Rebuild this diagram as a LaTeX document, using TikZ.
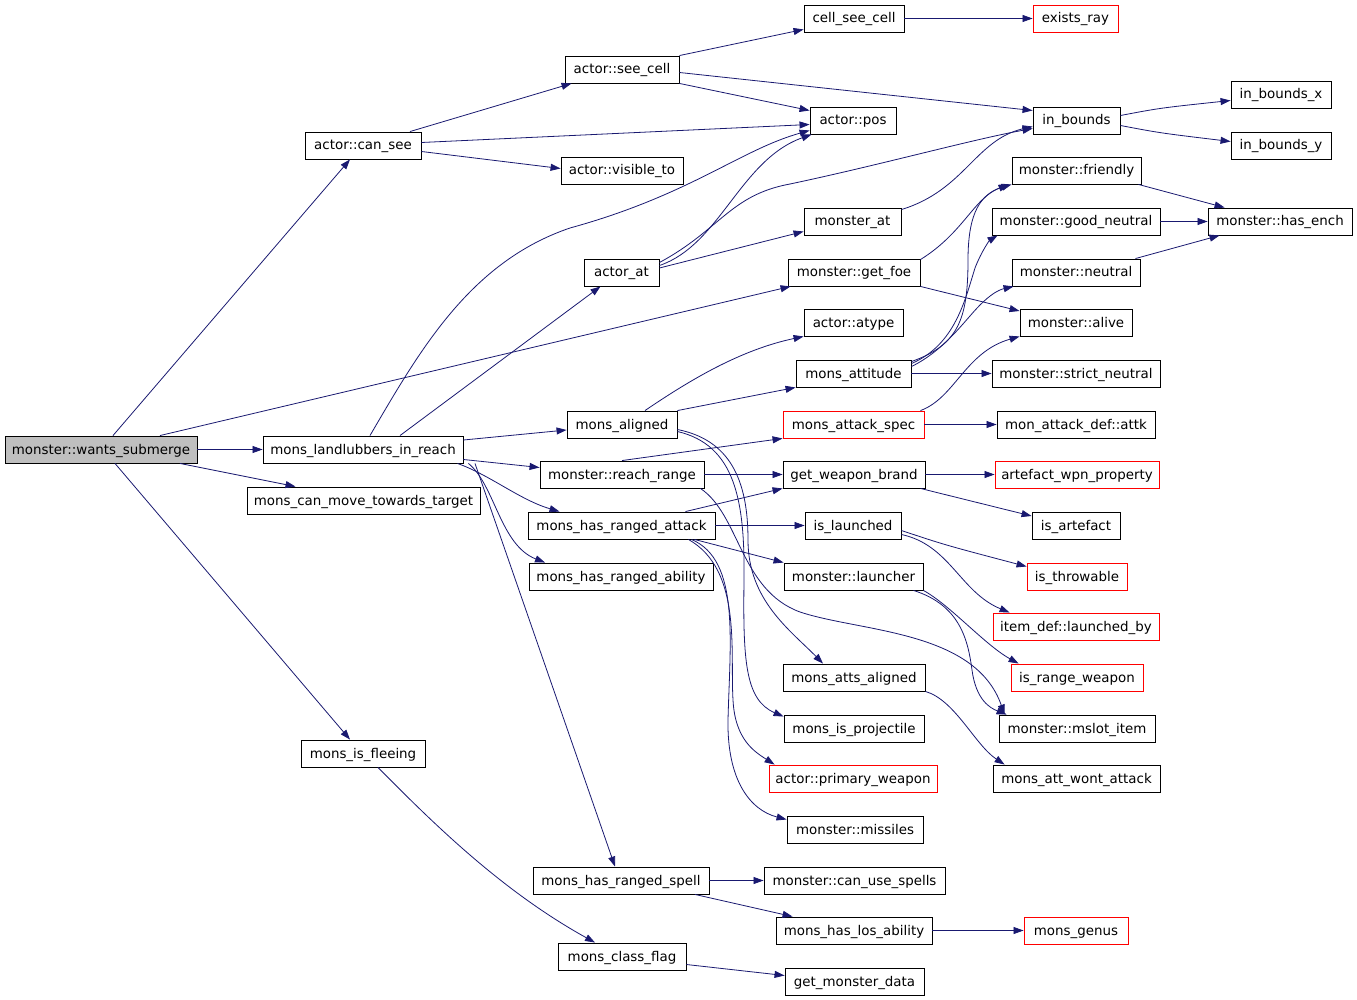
\documentclass[tikz,border=0pt]{standalone}
\usepackage{fontspec}
\setmainfont{DejaVu Sans}
\usetikzlibrary{arrows.meta}
\definecolor{edgeblue}{HTML}{191970}
\definecolor{rootgrey}{HTML}{BFBFBF}
\tikzset{
  fn/.style={draw=black, line width=0.9pt, fill=white, inner sep=0pt, minimum height=27pt, text height=12pt, text depth=3pt, font=\fontsize{13.4}{16}\selectfont},
  redfn/.style={fn, draw=red},
  rootfn/.style={fn, fill=rootgrey},
  edge/.style={draw=edgeblue, line width=0.8pt, -{Triangle[length=10pt,width=7pt]}},
}
\begin{document}
\begin{tikzpicture}[x=1pt,y=-1pt]
\useasboundingbox (0,0) rectangle (1357,1000);
% nodes
\node[rootfn, minimum width=192pt] (wants) at (101,449.5) {monster::wants\_submerge};
\node[fn, minimum width=200pt] (landlubbers) at (363,449.5) {mons\_landlubbers\_in\_reach};
\node[fn, minimum width=233pt] (canmove) at (363.5,500.5) {mons\_can\_move\_towards\_target};
\node[fn, minimum width=116pt] (cansee) at (363,145.5) {actor::can\_see};
\node[fn, minimum width=124pt] (fleeing) at (363,753.5) {mons\_is\_fleeing};
\node[fn, minimum width=114pt] (seecell) at (622,69.5) {actor::see\_cell};
\node[fn, minimum width=100pt] (cellsee) at (854,18.5) {cell\_see\_cell};
\node[redfn, minimum width=85pt] (existsray) at (1075.5,18.5) {exists\_ray};
\node[fn, minimum width=86pt] (pos) at (853,120.5) {actor::pos};
\node[fn, minimum width=87pt] (inbounds) at (1076.5,120.5) {in\_bounds};
\node[fn, minimum width=100pt] (inbx) at (1281,94.5) {in\_bounds\_x};
\node[fn, minimum width=100pt] (inby) at (1281,145.5) {in\_bounds\_y};
\node[fn, minimum width=122pt] (visible) at (622,170.5) {actor::visible\_to};
\node[fn, minimum width=75pt] (actorat) at (621.5,272.5) {actor\_at};
\node[fn, minimum width=97pt] (monsterat) at (852.5,221.5) {monster\_at};
\node[fn, minimum width=132pt] (getfoe) at (854,272.5) {monster::get\_foe};
\node[fn, minimum width=129pt] (friendly) at (1076.5,170.5) {monster::friendly};
\node[fn, minimum width=168pt] (goodneutral) at (1076,221.5) {monster::good\_neutral};
\node[fn, minimum width=144pt] (hasench) at (1280,221.5) {monster::has\_ench};
\node[fn, minimum width=128pt] (neutral) at (1076,272.5) {monster::neutral};
\node[fn, minimum width=112pt] (alive) at (1076,322.5) {monster::alive};
\node[fn, minimum width=168pt] (strictneutral) at (1076,373.5) {monster::strict\_neutral};
\node[fn, minimum width=99pt] (atype) at (853.5,322.5) {actor::atype};
\node[fn, minimum width=115pt] (attitude) at (853.5,373.5) {mons\_attitude};
\node[fn, minimum width=110pt] (aligned) at (622,424.5) {mons\_aligned};
\node[redfn, minimum width=141pt] (attackspec) at (853.5,424.5) {mons\_attack\_spec};
\node[fn, minimum width=158pt] (attk) at (1076,424.5) {mon\_attack\_def::attk};
\node[fn, minimum width=164pt] (reachrange) at (622,474.5) {monster::reach\_range};
\node[fn, minimum width=142pt] (brand) at (854,474.5) {get\_weapon\_brand};
\node[redfn, minimum width=164pt] (wpnprop) at (1077,474.5) {artefact\_wpn\_property};
\node[fn, minimum width=187pt] (rangedattack) at (621.5,525.5) {mons\_has\_ranged\_attack};
\node[fn, minimum width=96pt] (launched) at (853,525.5) {is\_launched};
\node[fn, minimum width=88pt] (isartefact) at (1076,525.5) {is\_artefact};
\node[fn, minimum width=184pt] (rangedability) at (621,576.5) {mons\_has\_ranged\_ability};
\node[fn, minimum width=139pt] (launcher) at (853.5,576.5) {monster::launcher};
\node[redfn, minimum width=100pt] (throwable) at (1077,576.5) {is\_throwable};
\node[redfn, minimum width=166pt] (launchedby) at (1076,626.5) {item\_def::launched\_by};
\node[fn, minimum width=142pt] (attsaligned) at (854,677.5) {mons\_atts\_aligned};
\node[redfn, minimum width=132pt] (rangeweapon) at (1077,677.5) {is\_range\_weapon};
\node[fn, minimum width=140pt] (projectile) at (854,728.5) {mons\_is\_projectile};
\node[fn, minimum width=156pt] (mslot) at (1077,728.5) {monster::mslot\_item};
\node[redfn, minimum width=168pt] (primary) at (853,778.5) {actor::primary\_weapon};
\node[fn, minimum width=167pt] (wontattack) at (1076.5,778.5) {mons\_att\_wont\_attack};
\node[fn, minimum width=136pt] (missiles) at (855,829.5) {monster::missiles};
\node[fn, minimum width=176pt] (rangedspell) at (621,880.5) {mons\_has\_ranged\_spell};
\node[fn, minimum width=181pt] (canusespells) at (854.5,880.5) {monster::can\_use\_spells};
\node[fn, minimum width=156pt] (losability) at (854,930.5) {mons\_has\_los\_ability};
\node[redfn, minimum width=104pt] (genus) at (1076,930.5) {mons\_genus};
\node[fn, minimum width=128pt] (classflag) at (622,956.5) {mons\_class\_flag};
\node[fn, minimum width=139pt] (monsterdata) at (854.5,981.5) {get\_monster\_data};
% edges from root
\draw[edge] ([xshift=12pt]wants.north) -- ([xshift=-13pt]cansee.south);
\draw[edge] ([xshift=59pt]wants.north) -- ([xshift=3pt]getfoe.south west);
\draw[edge] (wants.east) -- (landlubbers.west);
\draw[edge] ([xshift=79pt]wants.south) -- ([xshift=-68pt]canmove.north);
\draw[edge] ([xshift=14pt]wants.south) -- ([xshift=-13pt]fleeing.north);
% can_see
\draw[edge] ([xshift=47pt]cansee.north) -- ([xshift=7pt]seecell.south west);
\draw[edge] ([yshift=3pt]cansee.east) -- ([yshift=-4pt]pos.west);
\draw[edge] ([yshift=-6pt]cansee.east) -- ([yshift=2pt]visible.west);
% see_cell
\draw[edge] (seecell.north east) -- ([yshift=3pt]cellsee.south west);
\draw[edge] ([yshift=-3pt]seecell.east) -- ([yshift=10pt]inbounds.west);
\draw[edge] (seecell.south east) -- ([yshift=10pt]pos.west);
\draw[edge] (cellsee.east) -- (existsray.west);
\draw[edge] ([yshift=5pt]inbounds.east) .. controls (1160,108) .. ([yshift=-6pt]inbx.west);
\draw[edge] ([yshift=-5pt]inbounds.east) .. controls (1160,133) .. ([yshift=4pt]inby.west);
% landlubbers
\draw[edge] ([xshift=7pt]landlubbers.north) .. controls (420,350) and (470,262) .. (570,228) .. controls (690,195) and (740,150) .. ([yshift=4pt]pos.south west);
\draw[edge] ([xshift=37pt]landlubbers.north) -- ([xshift=-21pt]actorat.south);
\draw[edge] ([yshift=9.5pt]landlubbers.east) -- ([yshift=-5.5pt]aligned.west);
\draw[edge] ([yshift=-10pt]landlubbers.east) -- ([yshift=7pt]reachrange.west);
\draw[edge] ([xshift=-6pt]landlubbers.south east) .. controls (490,475) and (520,500) .. ([xshift=-62pt]rangedattack.north);
\draw[edge] ([xshift=5pt]landlubbers.south east) .. controls (495,485) and (500,545) .. ([xshift=-76pt]rangedability.north);
\draw[edge] ([xshift=112pt]landlubbers.south) -- ([xshift=-6pt]rangedspell.north);
% actor_at
\draw[edge] ([yshift=7pt]actorat.east) .. controls (720,245) and (740,160) .. ([xshift=2pt]pos.south west);
\draw[edge] ([yshift=10pt]actorat.east) .. controls (720,230) and (730,195) .. (790,184) .. controls (880,165) and (970,140) .. ([yshift=-8pt]inbounds.west);
\draw[edge] ([yshift=4.5pt]actorat.east) -- ([yshift=-10pt]monsterat.west);
\draw[edge] ([yshift=-2pt]monsterat.north east) .. controls (965,190) and (975,140) .. ([yshift=-6pt]inbounds.west);
% get_foe
\draw[edge] ([yshift=-1pt]getfoe.north east) .. controls (965,232) and (975,195) .. (friendly.south west);
\draw[edge] (getfoe.south east) -- ([yshift=11.5pt]alive.west);
% attitude
\draw[edge] ([yshift=-2pt]attitude.north east) .. controls (958,345) and (968,320) .. (968,260) .. controls (968,210) and (982,195) .. ([xshift=-3pt]friendly.south west);
\draw[edge] ([yshift=-4pt]attitude.north east) .. controls (955,345) and (965,300) .. (975,268) .. controls (982,250) and (990,240) .. ([xshift=6pt]goodneutral.south west);
\draw[edge] ([yshift=-7pt]attitude.north east) .. controls (945,350) and (965,320) .. (980,305) .. controls (990,295) and (998,290) .. ([xshift=2pt]neutral.south west);
\draw[edge] (attitude.east) -- (strictneutral.west);
\draw[edge] ([xshift=-4pt]attackspec.north east) .. controls (955,398) and (965,352) .. (alive.south west);
\draw[edge] ([xshift=-3pt]friendly.south east) -- ([xshift=17pt]hasench.north west);
\draw[edge] (goodneutral.east) -- (hasench.west);
\draw[edge] ([xshift=-5pt]neutral.north east) -- ([xshift=12pt]hasench.south west);
% aligned
\draw[edge] ([xshift=23pt]aligned.north) .. controls (690,380) and (740,350) .. (atype.south west);
\draw[edge] (aligned.north east) -- (attitude.south west);
\draw[edge] ([yshift=-5pt]aligned.east) .. controls (730,440) and (748,480) .. (748,540) .. controls (748,600) and (790,630) .. ([xshift=-31pt]attsaligned.north);
\draw[edge] ([yshift=-7pt]aligned.east) .. controls (735,445) and (745,500) .. (744,580) .. controls (743,660) and (745,700) .. ([yshift=-2pt]projectile.north west);
% reach_range
\draw[edge] (reachrange.north) -- (attackspec.south west);
\draw[edge] (reachrange.east) -- (brand.west);
\draw[edge] ([xshift=-4pt]reachrange.south east) .. controls (740,515) and (740,590) .. (800,612) .. controls (860,632) and (975,630) .. ([xshift=6pt]mslot.north west);
% ranged attack
\draw[edge] ([xshift=64pt]rangedattack.north) -- (brand.south west);
\draw[edge] (rangedattack.east) -- (launched.west);
\draw[edge] ([xshift=73pt]rangedattack.south) -- (launcher.north west);
\draw[edge] ([xshift=70pt]rangedattack.south) .. controls (740,560) and (730,640) .. (728,720) .. controls (727,780) and (750,810) .. ([yshift=10pt]missiles.west);
\draw[edge] ([xshift=67pt]rangedattack.south) .. controls (742,570) and (730,650) .. (733,700) .. controls (735,740) and (755,752) .. ([xshift=6pt]primary.north west);
% right side
\draw[edge] (attackspec.east) -- (attk.west);
\draw[edge] (brand.east) -- (wpnprop.west);
\draw[edge] ([xshift=-5pt]brand.south east) -- ([yshift=9.5pt]isartefact.west);
\draw[edge] ([yshift=-5pt]launched.east) .. controls (945,545) .. ([yshift=10pt]throwable.west);
\draw[edge] ([yshift=-9pt]launched.east) .. controls (950,545) and (960,592) .. ([xshift=17pt]launchedby.north west);
\draw[edge] (launcher.south east) .. controls (950,605) and (985,645) .. ([xshift=8pt]rangeweapon.north west);
\draw[edge] ([xshift=-10pt]launcher.south east) .. controls (960,605) and (968,640) .. (972,670) .. controls (976,700) and (990,708) .. ([xshift=8pt]mslot.north west);
\draw[edge] (attsaligned.south east) .. controls (955,700) and (975,745) .. ([xshift=12pt]wontattack.north west);
% bottom
\draw[edge] (rangedspell.east) -- (canusespells.west);
\draw[edge] ([xshift=74pt]rangedspell.south) -- ([xshift=17pt]losability.north west);
\draw[edge] (losability.east) -- (genus.west);
\draw[edge] ([xshift=15pt]fleeing.south) .. controls (430,820) and (500,890) .. ([xshift=-27pt]classflag.north);
\draw[edge] ([yshift=-8pt]classflag.east) -- ([yshift=6pt]monsterdata.west);
\end{tikzpicture}
\end{document}
